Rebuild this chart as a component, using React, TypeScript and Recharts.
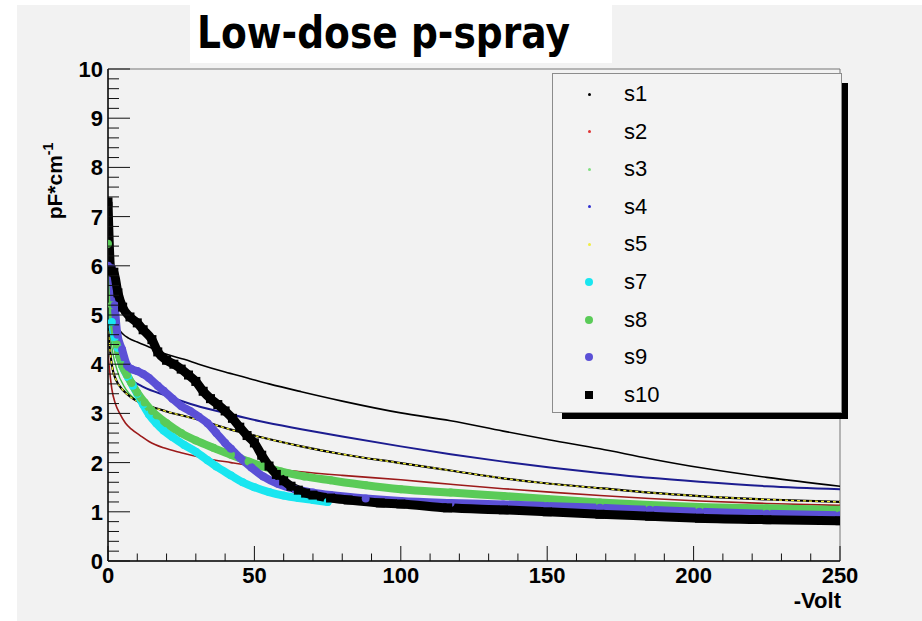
import React from "react";
import { LineChart, Line, XAxis, YAxis, ReferenceArea, Legend } from "recharts";

type Pt = { v: number; c: number };

// capacitance curves, pF/cm vs -V
const s1: Pt[] = [
  { v: 0, c: 6.0 }, { v: 0.5, c: 5.5 }, { v: 1, c: 5.2 }, { v: 2, c: 4.95 }, { v: 3, c: 4.78 },
  { v: 5, c: 4.62 }, { v: 7, c: 4.53 }, { v: 10, c: 4.45 }, { v: 14, c: 4.35 }, { v: 20, c: 4.2 },
  { v: 26, c: 4.1 }, { v: 31, c: 4.0 }, { v: 40, c: 3.84 }, { v: 47, c: 3.73 }, { v: 55, c: 3.6 },
  { v: 66, c: 3.44 }, { v: 80, c: 3.25 }, { v: 100, c: 3.01 }, { v: 117, c: 2.85 }, { v: 135, c: 2.64 },
  { v: 151, c: 2.46 }, { v: 168, c: 2.28 }, { v: 185, c: 2.08 }, { v: 202, c: 1.9 }, { v: 225, c: 1.7 },
  { v: 250, c: 1.52 },
];
const s2: Pt[] = [
  { v: 0, c: 4.2 }, { v: 0.5, c: 3.9 }, { v: 1.3, c: 3.5 }, { v: 2.5, c: 3.2 }, { v: 4, c: 3.0 },
  { v: 6, c: 2.8 }, { v: 8, c: 2.68 }, { v: 11, c: 2.55 }, { v: 14, c: 2.43 }, { v: 19, c: 2.3 },
  { v: 25, c: 2.2 }, { v: 33, c: 2.09 }, { v: 42, c: 2.0 }, { v: 53, c: 1.9 }, { v: 65, c: 1.82 },
  { v: 80, c: 1.74 }, { v: 100, c: 1.65 }, { v: 117, c: 1.56 }, { v: 135, c: 1.47 }, { v: 151, c: 1.4 },
  { v: 168, c: 1.33 }, { v: 185, c: 1.27 }, { v: 202, c: 1.22 }, { v: 225, c: 1.17 }, { v: 250, c: 1.13 },
];
const s3: Pt[] = [
  { v: 0, c: 5.2 }, { v: 1, c: 4.5 }, { v: 3, c: 3.9 }, { v: 6, c: 3.5 }, { v: 10, c: 3.25 },
  { v: 15, c: 2.95 }, { v: 20, c: 2.72 }, { v: 30, c: 2.4 }, { v: 40, c: 2.15 }, { v: 50, c: 1.95 },
  { v: 65, c: 1.75 }, { v: 80, c: 1.6 }, { v: 100, c: 1.46 }, { v: 125, c: 1.35 }, { v: 150, c: 1.26 },
  { v: 175, c: 1.18 }, { v: 200, c: 1.11 }, { v: 225, c: 1.06 }, { v: 250, c: 1.03 },
];
const s4: Pt[] = [
  { v: 0, c: 6.0 }, { v: 0.5, c: 5.4 }, { v: 1, c: 4.9 }, { v: 2, c: 4.4 }, { v: 3, c: 4.12 },
  { v: 5, c: 3.86 }, { v: 8, c: 3.68 }, { v: 12, c: 3.54 }, { v: 20, c: 3.36 }, { v: 30, c: 3.16 },
  { v: 42, c: 2.98 }, { v: 52, c: 2.84 }, { v: 66, c: 2.68 }, { v: 80, c: 2.53 }, { v: 100, c: 2.33 },
  { v: 117, c: 2.17 }, { v: 135, c: 2.02 }, { v: 151, c: 1.9 }, { v: 168, c: 1.79 }, { v: 185, c: 1.69 },
  { v: 202, c: 1.61 }, { v: 225, c: 1.52 }, { v: 250, c: 1.46 },
];
const s5: Pt[] = [
  { v: 0, c: 4.8 }, { v: 0.5, c: 4.4 }, { v: 1.4, c: 3.95 }, { v: 3, c: 3.65 }, { v: 5, c: 3.48 },
  { v: 8, c: 3.32 }, { v: 11, c: 3.22 }, { v: 15, c: 3.13 }, { v: 20, c: 3.04 }, { v: 31, c: 2.87 },
  { v: 42, c: 2.67 }, { v: 52, c: 2.52 }, { v: 66, c: 2.33 }, { v: 80, c: 2.17 }, { v: 100, c: 1.99 },
  { v: 117, c: 1.84 }, { v: 135, c: 1.68 }, { v: 151, c: 1.57 }, { v: 168, c: 1.48 }, { v: 185, c: 1.39 },
  { v: 202, c: 1.32 }, { v: 225, c: 1.25 }, { v: 250, c: 1.2 },
];
const s7: Pt[] = [
  { v: 0, c: 5.9 }, { v: 1.3, c: 4.86 }, { v: 2.3, c: 4.55 }, { v: 3.4, c: 4.33 }, { v: 4.8, c: 3.98 },
  { v: 6.8, c: 3.74 }, { v: 8.5, c: 3.56 }, { v: 10, c: 3.4 }, { v: 12, c: 3.18 }, { v: 14, c: 2.98 },
  { v: 16.5, c: 2.8 }, { v: 19, c: 2.65 }, { v: 22, c: 2.52 }, { v: 26, c: 2.36 }, { v: 30, c: 2.22 },
  { v: 34, c: 2.05 }, { v: 37, c: 1.92 }, { v: 42, c: 1.74 }, { v: 46, c: 1.6 }, { v: 50, c: 1.5 },
  { v: 55, c: 1.4 }, { v: 60, c: 1.33 }, { v: 65, c: 1.28 }, { v: 70, c: 1.24 }, { v: 75, c: 1.2 },
];
const s8: Pt[] = [
  { v: 0, c: 6.45 }, { v: 1.3, c: 5.2 }, { v: 3, c: 4.4 }, { v: 4.8, c: 3.98 }, { v: 6.5, c: 3.78 },
  { v: 8, c: 3.62 }, { v: 10, c: 3.42 }, { v: 12.5, c: 3.22 }, { v: 15, c: 3.05 }, { v: 20, c: 2.8 },
  { v: 25, c: 2.6 }, { v: 30, c: 2.45 }, { v: 36, c: 2.3 }, { v: 42, c: 2.16 }, { v: 48, c: 2.02 },
  { v: 53, c: 1.92 }, { v: 59, c: 1.82 }, { v: 67, c: 1.72 }, { v: 76, c: 1.64 }, { v: 88, c: 1.54 },
  { v: 100, c: 1.46 }, { v: 117, c: 1.39 }, { v: 135, c: 1.32 }, { v: 150, c: 1.26 }, { v: 168, c: 1.19 },
  { v: 185, c: 1.14 }, { v: 202, c: 1.1 }, { v: 225, c: 1.07 }, { v: 250, c: 1.04 },
];
const s9: Pt[] = [
  { v: 0, c: 6.0 }, { v: 1.3, c: 5.95 }, { v: 2.3, c: 5.2 }, { v: 3.2, c: 4.6 }, { v: 4.8, c: 4.3 },
  { v: 6.5, c: 3.98 }, { v: 8, c: 3.9 }, { v: 10, c: 3.86 }, { v: 12, c: 3.8 }, { v: 14, c: 3.72 },
  { v: 17, c: 3.56 }, { v: 19, c: 3.46 }, { v: 22, c: 3.3 }, { v: 25, c: 3.15 }, { v: 28, c: 3.05 },
  { v: 31, c: 2.93 }, { v: 34, c: 2.8 }, { v: 37, c: 2.6 }, { v: 40, c: 2.4 }, { v: 42, c: 2.28 },
  { v: 45, c: 2.1 }, { v: 49, c: 1.9 }, { v: 53, c: 1.72 }, { v: 58, c: 1.57 }, { v: 64, c: 1.46 },
  { v: 70, c: 1.39 }, { v: 76, c: 1.34 }, { v: 88, c: 1.27 }, { v: 100, c: 1.22 }, { v: 117, c: 1.18 },
  { v: 135, c: 1.15 }, { v: 150, c: 1.12 }, { v: 168, c: 1.08 }, { v: 185, c: 1.04 }, { v: 202, c: 1.0 },
  { v: 225, c: 0.96 }, { v: 250, c: 0.93 },
];
const s10: Pt[] = [
  { v: 0, c: 7.3 }, { v: 1, c: 5.9 }, { v: 2, c: 5.87 }, { v: 3.4, c: 5.45 }, { v: 5, c: 5.16 },
  { v: 7.5, c: 4.96 }, { v: 10, c: 4.84 }, { v: 12, c: 4.7 }, { v: 15, c: 4.5 }, { v: 17, c: 4.25 },
  { v: 20, c: 4.08 }, { v: 22.5, c: 4.0 }, { v: 25, c: 3.9 }, { v: 27.5, c: 3.78 }, { v: 30, c: 3.65 },
  { v: 32.5, c: 3.45 }, { v: 35, c: 3.3 }, { v: 37.5, c: 3.18 }, { v: 40, c: 3.05 }, { v: 42.5, c: 2.9 },
  { v: 45, c: 2.72 }, { v: 47.5, c: 2.55 }, { v: 50, c: 2.4 }, { v: 52.5, c: 2.15 }, { v: 55, c: 1.93 },
  { v: 57.5, c: 1.76 }, { v: 60, c: 1.63 }, { v: 62.5, c: 1.52 }, { v: 65, c: 1.44 }, { v: 67.5, c: 1.38 },
  { v: 70, c: 1.34 }, { v: 76, c: 1.28 }, { v: 82, c: 1.24 }, { v: 93, c: 1.18 }, { v: 100, c: 1.16 },
  { v: 116, c: 1.08 }, { v: 135, c: 1.04 }, { v: 150, c: 1.0 }, { v: 168, c: 0.95 }, { v: 185, c: 0.91 },
  { v: 202, c: 0.87 }, { v: 225, c: 0.84 }, { v: 250, c: 0.82 },
];

const seriesNames = ["s1", "s2", "s3", "s4", "s5", "s7", "s8", "s9", "s10"];
const xMajor = [0, 50, 100, 150, 200, 250];
const yMajor = [0, 1, 2, 3, 4, 5, 6, 7, 8, 9, 10];
const titleText = "Low-dose p-spray";
const xTitle = "-Volt";

// minor tick positions (every 10 V, every 0.2 pF)
const xTicks = Array.from({ length: 26 }, (_, i) => i * 10);
const yTicks = Array.from({ length: 51 }, (_, i) => i / 5);

const look: Record<string, { marker: string; kind: "thin" | "circle" | "square" }> = {
  s1: { marker: "#000000", kind: "thin" },
  s2: { marker: "#e03535", kind: "thin" },
  s3: { marker: "#80e080", kind: "thin" },
  s4: { marker: "#3030d0", kind: "thin" },
  s5: { marker: "#f0ee40", kind: "thin" },
  s7: { marker: "#19e6f0", kind: "circle" },
  s8: { marker: "#5acb58", kind: "circle" },
  s9: { marker: "#5b50d6", kind: "circle" },
  s10: { marker: "#000000", kind: "square" },
};

const axisFont = '"Liberation Sans", Arial, Helvetica, sans-serif';

const XTick = (props: any) => {
  const { x, y, payload } = props;
  const major = xMajor.includes(payload.value);
  return (
    <g>
      <line x1={x} x2={x} y1={y} y2={y - (major ? 15 : 7.5)} stroke="#111" strokeWidth={1} />
      {major && (
        <text x={x} y={y + 22} textAnchor="middle" fontSize={22} fontWeight="bold" fontFamily={axisFont} fill="#000">
          {payload.value}
        </text>
      )}
    </g>
  );
};

const YTick = (props: any) => {
  const { x, y, payload } = props;
  const val = payload.value as number;
  const major = yMajor.some((m) => Math.abs(m - val) < 1e-6);
  return (
    <g>
      <line x1={x} x2={x + (major ? 22 : 11)} y1={y} y2={y} stroke="#111" strokeWidth={1} />
      {major && (
        <text x={x - 5} y={y + 8} textAnchor="end" fontSize={22} fontWeight="bold" fontFamily={axisFont} fill="#000">
          {Math.round(val)}
        </text>
      )}
    </g>
  );
};

const squareDot = (props: any) => {
  const { cx, cy, index } = props;
  return <rect key={`sq-${index}`} x={cx - 4.5} y={cy - 4.5} width={9} height={9} fill="#000" />;
};

const LegendBox = () => (
  <div style={{ position: "relative", width: 290, height: 340, fontFamily: axisFont }}>
    {/* ROOT-style drop shadow, offset 10px, sticking out 6px */}
    <div style={{ position: "absolute", left: 10, top: 10, width: 286, height: 336, background: "#000" }} />
    <div
      style={{
        position: "absolute",
        left: 0,
        top: 0,
        width: 290,
        height: 340,
        boxSizing: "border-box",
        border: "1px solid #8c8c8c",
        background: "#f3f3f3",
      }}
    >
      {seriesNames.map((name, i) => {
        const l = look[name];
        const size = l.kind === "thin" ? 3 : 8;
        return (
          <div key={name} style={{ position: "absolute", left: 0, top: 20 + i * 37.6 - 14, height: 28, width: 200 }}>
            <div
              style={{
                position: "absolute",
                left: 36 - size / 2,
                top: 14 - size / 2,
                width: size,
                height: size,
                background: l.marker,
                borderRadius: l.kind === "square" ? 0 : "50%",
              }}
            />
            <span style={{ position: "absolute", left: 71, top: 1, fontSize: 22, lineHeight: "26px", color: "#000" }}>{name}</span>
          </div>
        );
      })}
    </div>
  </div>
);

export default function App() {
  return (
    <div style={{ position: "absolute", left: 0, top: 0, width: 922, height: 621, background: "#ffffff", overflow: "hidden" }}>
      <div style={{ position: "absolute", left: 17, top: 5, right: 0, bottom: 0, background: "#f2f2f2" }} />
      <div style={{ position: "absolute", left: 190, top: 5, width: 422, height: 58, background: "#ffffff" }} />
      <div style={{ position: "absolute", left: 0, top: 0 }}>
        <LineChart width={922} height={621} margin={{ top: 69, right: 82, bottom: 0, left: 0 }}>
          <XAxis
            dataKey="v"
            type="number"
            domain={[0, 250]}
            ticks={xTicks}
            interval={0}
            tickSize={0}
            tickMargin={0}
            tickLine={false}
            axisLine={{ stroke: "#111", strokeWidth: 1.5 }}
            tick={(p: any) => <XTick {...p} />}
            height={60}
            allowDataOverflow
          />
          <YAxis
            type="number"
            domain={[0, 10]}
            ticks={yTicks}
            interval={0}
            width={108}
            tickSize={0}
            tickMargin={0}
            tickLine={false}
            axisLine={{ stroke: "#111", strokeWidth: 1.5 }}
            tick={(p: any) => <YTick {...p} />}
            allowDataOverflow
          />
          <ReferenceArea x1={0} x2={250} y1={0} y2={10} fill="none" stroke="#777" strokeWidth={1} />
          <Line data={s1} dataKey="c" type="monotone" stroke="#000" strokeWidth={1.6} dot={false} activeDot={false} isAnimationActive={false} />
          <Line data={s2} dataKey="c" type="monotone" stroke="#9c1a1a" strokeWidth={1.6} dot={false} activeDot={false} isAnimationActive={false} />
          <Line data={s3} dataKey="c" type="monotone" stroke="#3fbf3f" strokeWidth={1.4} dot={false} activeDot={false} isAnimationActive={false} />
          <Line data={s4} dataKey="c" type="monotone" stroke="#1c1c90" strokeWidth={2} dot={false} activeDot={false} isAnimationActive={false} />
          <Line data={s5} dataKey="c" type="monotone" stroke="#000" strokeWidth={2.2} dot={false} activeDot={false} isAnimationActive={false} />
          <Line data={s5} dataKey="c" type="monotone" stroke="#f0ee30" strokeWidth={1.3} strokeDasharray="3 3" dot={false} activeDot={false} legendType="none" isAnimationActive={false} />
          <Line data={s7} dataKey="c" type="monotone" stroke="#19e6f0" strokeWidth={8} strokeLinecap="round" dot={{ r: 4, fill: "#19e6f0", stroke: "none" }} activeDot={false} isAnimationActive={false} />
          <Line data={s8} dataKey="c" type="monotone" stroke="#5acb58" strokeWidth={8} strokeLinecap="round" dot={{ r: 4, fill: "#5acb58", stroke: "none" }} activeDot={false} isAnimationActive={false} />
          <Line data={s9} dataKey="c" type="monotone" stroke="#5b50d6" strokeWidth={8} strokeLinecap="round" dot={{ r: 4, fill: "#5b50d6", stroke: "none" }} activeDot={false} isAnimationActive={false} />
          <Line data={s10} dataKey="c" type="monotone" stroke="#000" strokeWidth={9} dot={squareDot} activeDot={false} isAnimationActive={false} />
          <Legend
            layout="vertical"
            align="center"
            verticalAlign="middle"
            wrapperStyle={{ left: 552, top: 73, width: 296, height: 346 }}
            content={() => <LegendBox />}
          />
        </LineChart>
      </div>
      <svg width={922} height={621} style={{ position: "absolute", left: 0, top: 0, pointerEvents: "none" }}>
        <text x={197} y={48} fontSize={44} fontWeight="bold" fontFamily='"DejaVu Sans", sans-serif' textLength={373} lengthAdjust="spacingAndGlyphs" fill="#000">
          {titleText}
        </text>
        <text x={841} y={608} textAnchor="end" fontSize={22} fontWeight="bold" fontFamily={axisFont} fill="#000">
          {xTitle}
        </text>
        <text transform="translate(62,181) rotate(-90)" textAnchor="middle" fontSize={21} fontWeight="bold" fontFamily={axisFont} fill="#000">
          pF*cm<tspan dy={-9} fontSize={14}>-1</tspan>
        </text>
      </svg>
    </div>
  );
}
